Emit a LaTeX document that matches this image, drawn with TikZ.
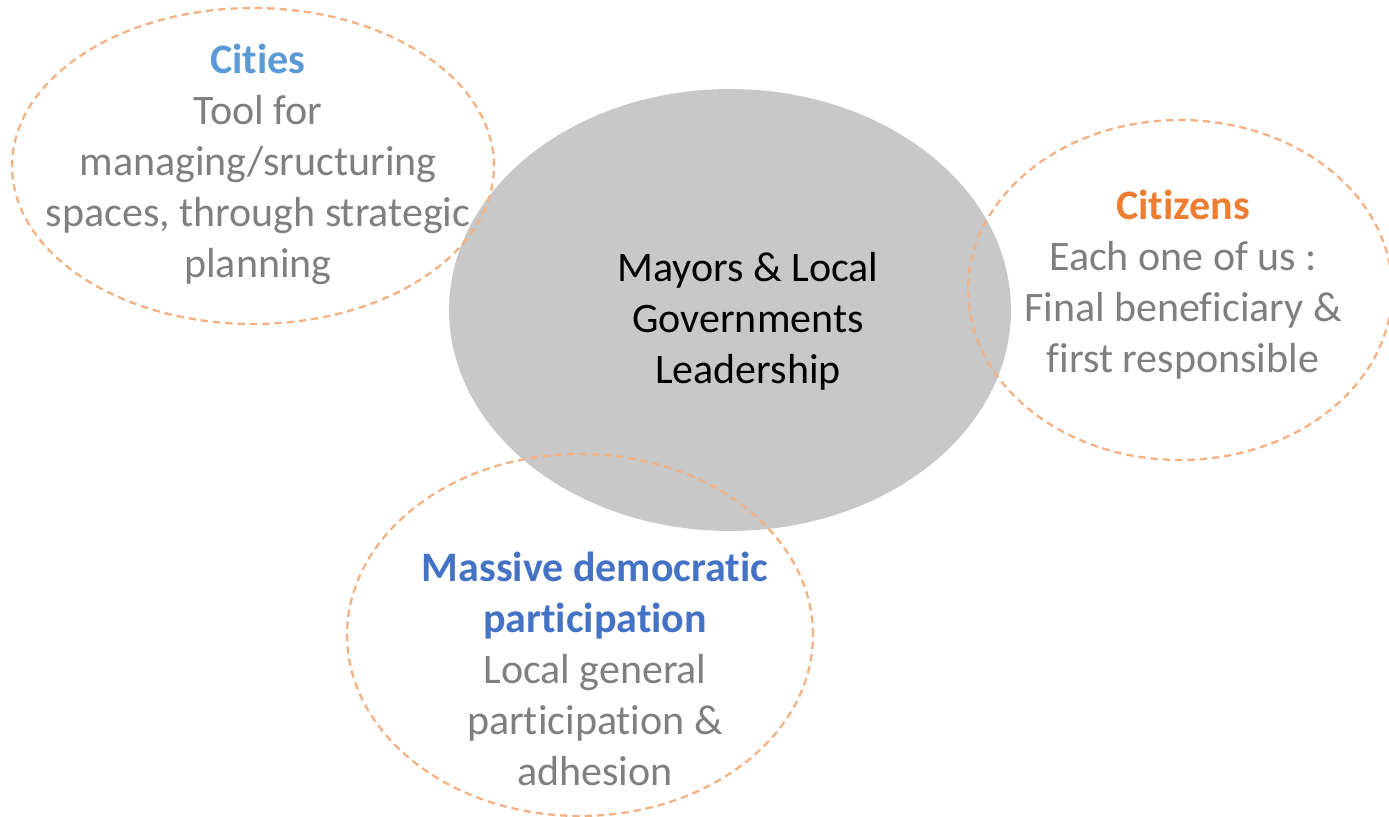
\documentclass[tikz,border=0pt]{standalone}
\usepackage{fontspec}
\setmainfont{Carlito}[Ligatures=NoCommon]
\usepackage{tikz}
\usetikzlibrary{shapes.geometric,positioning}
\definecolor{dashorange}{HTML}{F4B183}
\definecolor{hubgray}{HTML}{C8C8C8}
\definecolor{txtgray}{HTML}{7F7F7F}
\definecolor{cityblue}{HTML}{5B9BD5}
\definecolor{massblue}{HTML}{4472C4}
\definecolor{citorange}{HTML}{ED7D31}

\begin{document}
\begin{tikzpicture}[x=0.02cm,y=-0.02cm,
  bubble/.style={ellipse,draw=dashorange,line width=1.3pt,dash pattern=on 4.2pt off 2.8pt,inner sep=0pt},
  hub/.style={ellipse,fill=hubgray,inner sep=0pt},
  bubbletext/.style={align=center,inner sep=0pt,font=\fontsize{23.9}{29}\selectfont,text=txtgray}]
\useasboundingbox (0,0) rectangle (1389,817);
\node[hub,minimum width=11.24cm,minimum height=8.84cm] (hub) at (730,310) {};
\node[bubble,minimum width=9.64cm,minimum height=6.32cm] (cities) at (253,166) {};
\node[bubble,minimum width=8.48cm,minimum height=6.8cm] (citizens) at (1180,290) {};
\node[bubble,minimum width=9.32cm,minimum height=7.24cm] (mass) at (580,635) {};
\node[bubbletext,text=black] (hubtxt) at (748,321) {Mayors \& Local\\Governments\\Leadership};
\node[bubbletext] (citiestxt) at (258,164) {\textbf{\color{cityblue}Cities}\\Tool for\\managing/sructuring\\spaces, through strategic\\planning};
\node[bubbletext] (citizenstxt) at (1183,285) {\textbf{\color{citorange}Citizens}\\Each one of us :\\Final beneficiary \&\\first responsible};
\node[bubbletext] (masstxt) at (595,669) {\textbf{\color{massblue}Massive democratic}\\\textbf{\color{massblue}participation}\\Local general\\participation \&\\adhesion};
\end{tikzpicture}
\end{document}
